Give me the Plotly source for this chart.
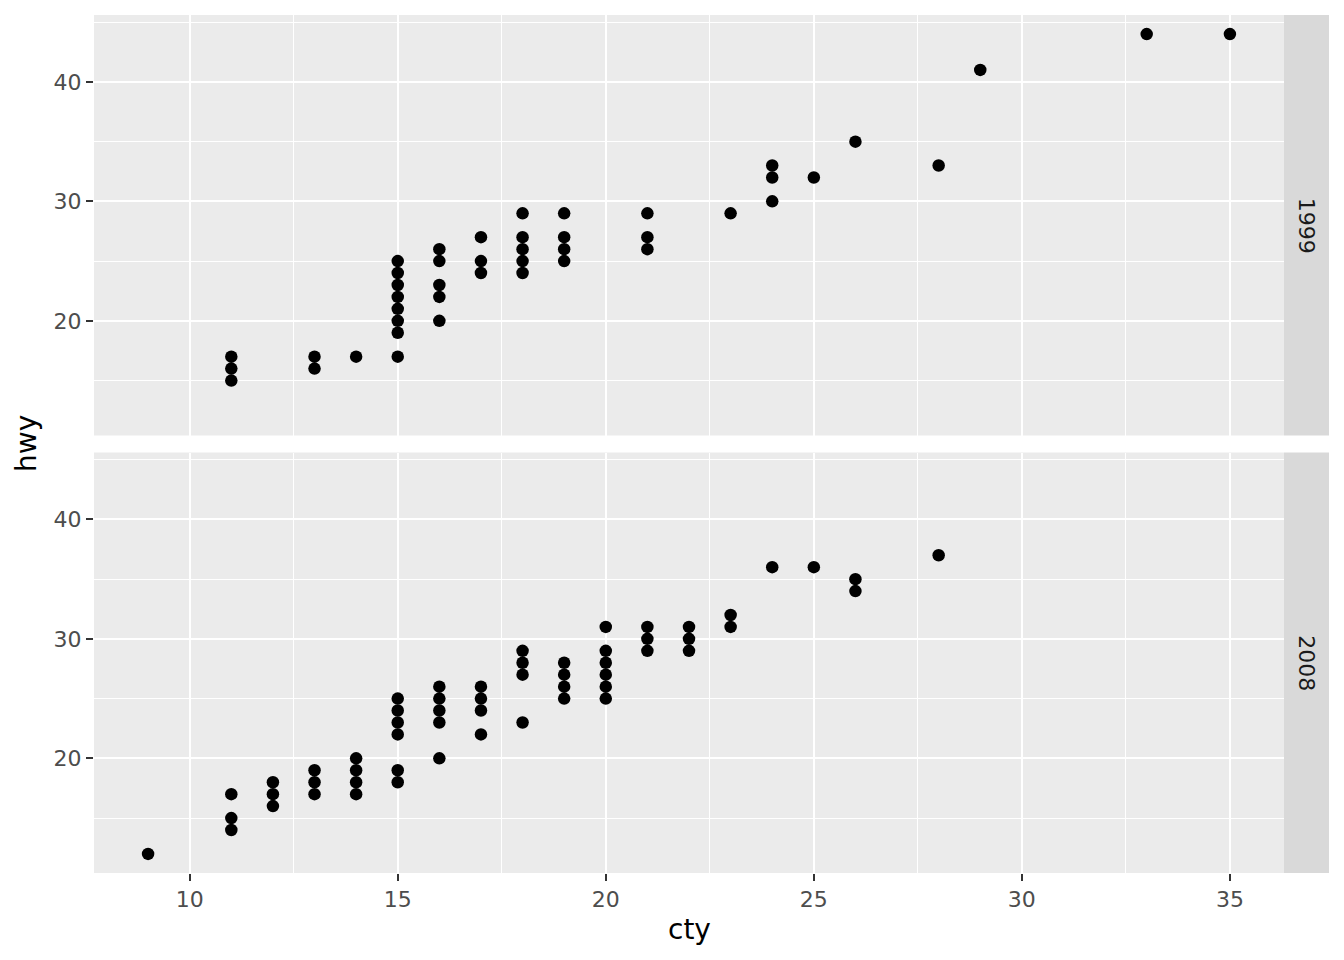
import plotly.graph_objects as go
from plotly.subplots import make_subplots

# 1999 panel (cty, hwy) unique positions
cty_1999 = [11, 11, 11, 13, 13, 14, 15, 15, 15, 15, 15, 15, 15, 15,
            16, 16, 16, 16, 16, 17, 17, 17, 18, 18, 18, 18, 18,
            19, 19, 19, 19, 21, 21, 21, 23, 24, 24, 24, 25, 26, 28, 29, 33, 35]
hwy_1999 = [17, 16, 15, 17, 16, 17, 17, 19, 20, 21, 22, 23, 24, 25,
            20, 22, 23, 25, 26, 24, 25, 27, 24, 25, 26, 27, 29,
            25, 26, 27, 29, 26, 27, 29, 29, 30, 32, 33, 32, 35, 33, 41, 44, 44]

# 2008 panel
cty_2008 = [9, 11, 11, 11, 12, 12, 12, 13, 13, 13, 14, 14, 14, 14,
            15, 15, 15, 15, 15, 15, 16, 16, 16, 16, 16, 17, 17, 17, 17,
            18, 18, 18, 18, 19, 19, 19, 19, 20, 20, 20, 20, 20, 20,
            21, 21, 21, 22, 22, 22, 23, 23, 24, 25, 26, 26, 28]
hwy_2008 = [12, 17, 15, 14, 18, 17, 16, 19, 18, 17, 20, 19, 18, 17,
            25, 24, 23, 22, 19, 18, 26, 25, 24, 23, 20, 26, 25, 24, 22,
            29, 28, 27, 23, 28, 27, 26, 25, 31, 29, 28, 27, 26, 25,
            31, 30, 29, 31, 30, 29, 32, 31, 36, 36, 35, 34, 37]

years = ["1999", "2008"]
x_ticks = [10, 15, 20, 25, 30, 35]
y_ticks = [20, 30, 40]

W, H = 1344, 960
ml, mr, mt, mb = 94, 60, 15, 87
pw = W - ml - mr
ph = H - mt - mb
gap = 17

fig = make_subplots(rows=2, cols=1, shared_xaxes=True,
                    vertical_spacing=gap / ph)

for i, (xs, ys) in enumerate([(cty_1999, hwy_1999), (cty_2008, hwy_2008)]):
    fig.add_trace(go.Scatter(x=xs, y=ys, mode="markers",
                             marker=dict(color="black", size=12.5, line=dict(width=0)),
                             showlegend=False, hoverinfo="skip"),
                  row=i + 1, col=1)

tickfont = dict(family="DejaVu Sans", size=22, color="#4D4D4D")
common = dict(showline=False, zeroline=False, gridcolor="white", gridwidth=2.4,
              ticklen=7, tickwidth=2, tickcolor="#333333",
              tickfont=tickfont)

for r in (1, 2):
    fig.update_xaxes(range=[7.7, 36.3], tickvals=x_ticks,
                     minor=dict(tickvals=[12.5, 17.5, 22.5, 27.5, 32.5], showgrid=True,
                                gridcolor="white", gridwidth=1.3, ticks=""),
                     showticklabels=(r == 2), ticks="outside" if r == 2 else "",
                     row=r, col=1, **common)
    fig.update_yaxes(range=[10.4, 45.6], tickvals=y_ticks, ticks="outside",
                     minor=dict(tickvals=[15, 25, 35, 45], showgrid=True,
                                gridcolor="white", gridwidth=1.3, ticks=""),
                     row=r, col=1, **common)

# facet strips
strip_w = 45 / pw
for i, ax in enumerate(["y domain", "y2 domain"]):
    fig.add_shape(type="rect", xref="paper", yref=ax, x0=1.0, x1=1.0 + strip_w,
                  y0=0, y1=1, fillcolor="#D9D9D9", line=dict(width=0), layer="below")
    fig.add_annotation(xref="paper", yref=ax, x=1.0 + strip_w / 2, y=0.5,
                       xanchor="center", yanchor="middle",
                       text=years[i], textangle=90, showarrow=False,
                       font=dict(family="DejaVu Sans", size=22, color="#1A1A1A"))

# axis titles
fig.add_annotation(xref="paper", yref="paper", x=0.5, y=-(929 - (H - mb)) / ph,
                   text="cty", showarrow=False, yanchor="middle", xanchor="center",
                   font=dict(family="DejaVu Sans", size=28, color="black"))
fig.add_annotation(xref="paper", yref="paper", x=-(94 - 26) / pw, y=0.5,
                   text="hwy", textangle=-90, showarrow=False, xanchor="center",
                   yanchor="middle",
                   font=dict(family="DejaVu Sans", size=28, color="black"))

fig.update_layout(width=W, height=H, margin=dict(l=ml, r=mr, t=mt, b=mb),
                  plot_bgcolor="#EBEBEB", paper_bgcolor="white",
                  font=dict(family="DejaVu Sans"))

fig.write_html("out.html", config={"displayModeBar": False},
               post_script="document.body.style.margin='0';")
